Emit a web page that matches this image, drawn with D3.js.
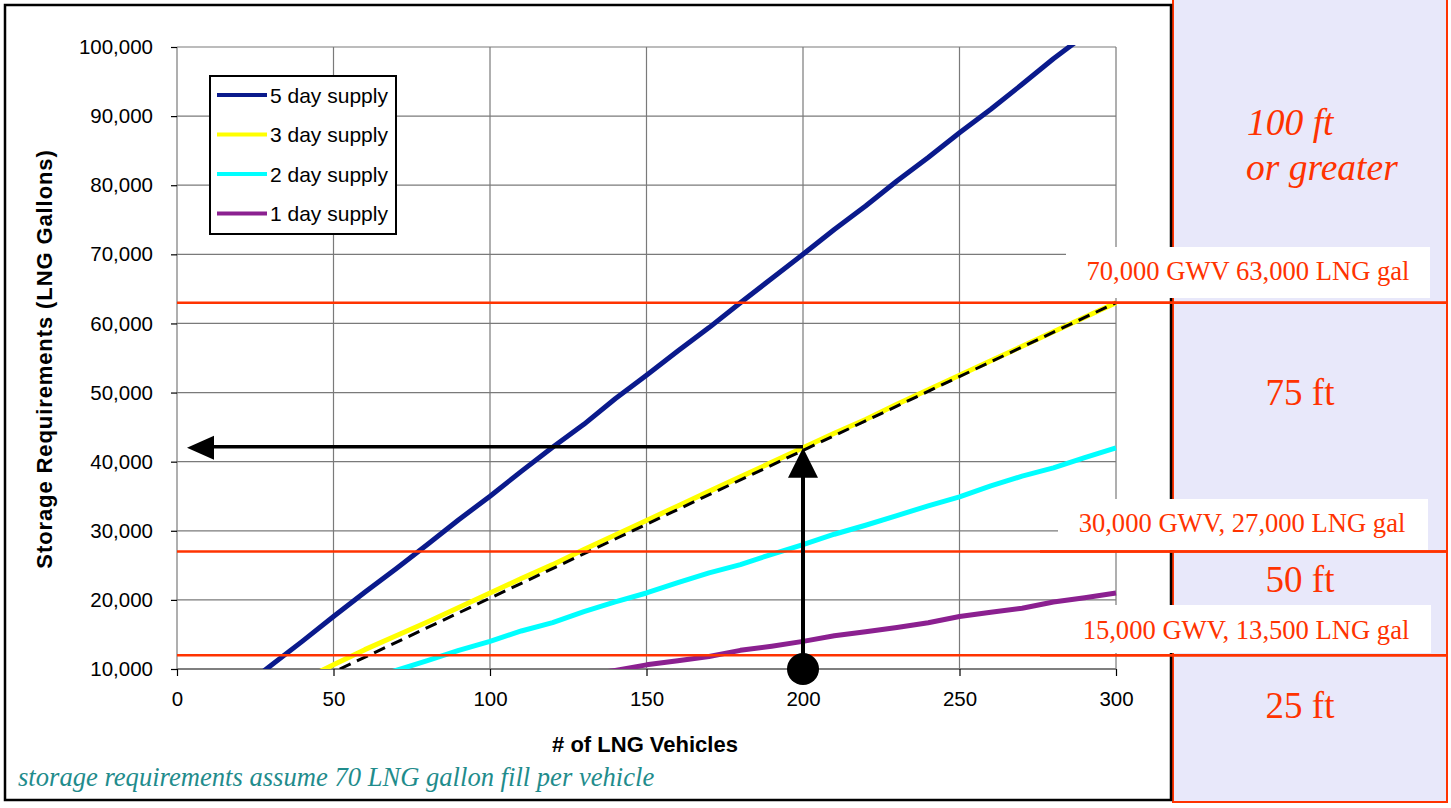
<!DOCTYPE html>
<html><head><meta charset="utf-8">
<script src="https://cdn.jsdelivr.net/npm/d3@7"></script>
<style>html,body{margin:0;padding:0;background:#fff;overflow:hidden}</style>
</head><body>
<svg id="c" width="1451" height="808"></svg>
<script>
// ---- data ----
const vehicles = [0,10,20,30,40,50,60,70,80,90,100,110,120,130,140,150,160,170,180,190,200,210,220,230,240,250,260,270,280,290,300];
const supply5 = [0,3500,7000,10500,14000,17600,21100,24500,28000,31600,35000,38600,42100,45400,49100,52500,56000,59400,63000,66500,70000,73600,77000,80600,84000,87600,91000,94600,98300,101700,105000];
const supply3 = [0,2100,4200,6300,8400,10600,12800,14800,16800,18900,21000,23100,25100,27300,29400,31500,33600,35700,37800,39900,42000,44100,46100,48300,50400,52500,54600,56700,58800,60900,63000];
const supply2 = [0,1400,2800,4200,5600,7000,8400,9800,11200,12700,14000,15500,16700,18300,19700,21000,22500,23900,25100,26600,28000,29500,30800,32200,33600,34900,36500,37900,39100,40600,42000];
const supply1 = [0,700,1400,2100,2800,3500,4200,4900,5600,6300,7000,7700,8400,9100,9800,10600,11200,11800,12700,13300,14000,14800,15400,16000,16700,17600,18200,18800,19700,20300,21000];
const seriesNames = ["5 day supply","3 day supply","2 day supply","1 day supply"];
const seriesColors = ["#0a1a8c","#ffff00","#00ffff","#8b2090"];
const trendX = [52, 300];
const trendY = [10000, 63000];
const xTicks = [0,50,100,150,200,250,300];
const yTicks = [10000,20000,30000,40000,50000,60000,70000,80000,90000,100000];
const limitValues = [63000, 27000, 12000];
const limitLabels = ["70,000 GWV 63,000 LNG gal","30,000 GWV, 27,000 LNG gal","15,000 GWV, 13,500 LNG gal"];
const zoneLabels = ["75 ft","50 ft","25 ft"];
const exampleVehicles = 200, exampleGallons = 42000;

const svg = d3.select("#c");
const L = 177, R = 1116, T = 47, B = 669;
const x = d3.scaleLinear().domain([0,300]).range([L,R]);
const y = d3.scaleLinear().domain([10000,100000]).range([B,T]);
const RED = "#ff3300";
const SANS = "Liberation Sans, Arial, sans-serif";
const SERIF = "Liberation Serif, Times New Roman, serif";

// right panel
svg.append("rect").attr("x",1173).attr("y",-5).attr("width",274).attr("height",807)
  .attr("fill","#e8e8fa").attr("stroke",RED).attr("stroke-width",2);
// chart border
svg.append("rect").attr("x",5).attr("y",5).attr("width",1166).attr("height",795)
  .attr("fill","#fff").attr("stroke","#000").attr("stroke-width",2.5);

// grid
const grid = svg.append("g");
grid.selectAll("line.h").data(yTicks).join("line")
  .attr("x1",L).attr("x2",R).attr("y1",d=>y(d)).attr("y2",d=>y(d))
  .attr("stroke",d=>d===10000?"#000":"#7a7a7a").attr("stroke-width",1.2);
grid.selectAll("line.v").data(xTicks).join("line")
  .attr("x1",d=>x(d)).attr("x2",d=>x(d)).attr("y1",T).attr("y2",B)
  .attr("stroke","#7a7a7a").attr("stroke-width",1.2);

// axes
const ax = svg.append("g").attr("transform",`translate(0,${B})`)
  .call(d3.axisBottom(x).tickValues(xTicks).tickSize(7).tickPadding(15).tickFormat(d3.format("d")));
const ay = svg.append("g").attr("transform",`translate(${L},0)`)
  .call(d3.axisLeft(y).tickValues(yTicks).tickSize(6).tickPadding(18).tickFormat(d3.format(",")));
[ax,ay].forEach(a=>{
  a.select(".domain").remove();
  a.selectAll("line").attr("stroke","#000").attr("stroke-width",1.2);
  a.selectAll("text").attr("font-family",SANS).attr("font-size",20.5).attr("fill","#000");
});

// axis titles
svg.append("text").attr("x",645).attr("y",752).attr("text-anchor","middle")
  .attr("font-family",SANS).attr("font-weight","bold").attr("font-size",22)
  .text("# of LNG Vehicles");
svg.append("text").attr("transform","translate(52,359) rotate(-90)").attr("text-anchor","middle")
  .attr("font-family",SANS).attr("font-weight","bold").attr("font-size",22).attr("letter-spacing",0.9)
  .text("Storage Requirements (LNG Gallons)");

// clip
svg.append("clipPath").attr("id","pc").append("rect").attr("x",L).attr("y",T-2).attr("width",R-L+3).attr("height",B-T+2);
const plot = svg.append("g").attr("clip-path","url(#pc)");
const line = d3.line().x(d=>x(d[0])).y(d=>y(d[1]));
const allSeries = [supply5, supply3, supply2, supply1];
allSeries.forEach((s,i)=>{
  plot.append("path").datum(vehicles.map((v,j)=>[v,s[j]]))
    .attr("d",line).attr("fill","none").attr("stroke",seriesColors[i])
    .attr("stroke-width",5).attr("stroke-linejoin","round");
});
plot.append("path").datum(trendX.map((v,j)=>[v,trendY[j]]))
  .attr("d",line).attr("fill","none").attr("stroke","#000").attr("stroke-width",3)
  .attr("stroke-dasharray","12,7");

// red limit lines
svg.selectAll("line.lim").data(limitValues).join("line")
  .attr("x1",L).attr("x2",1447).attr("y1",d=>y(d)).attr("y2",d=>y(d))
  .attr("stroke",RED).attr("stroke-width",2.5);

// arrows
const ex = x(exampleVehicles), ey = y(exampleGallons);
svg.append("line").attr("x1",ex).attr("x2",ex).attr("y1",y(10000)).attr("y2",ey+28)
  .attr("stroke","#000").attr("stroke-width",4);
svg.append("path").attr("d",`M${ex},${ey} L${ex-15},${ey+30} L${ex+15},${ey+30} Z`).attr("fill","#000");
svg.append("circle").attr("cx",ex).attr("cy",y(10000)).attr("r",16).attr("fill","#000");
const ax0 = x(3.2);
svg.append("line").attr("x1",ex).attr("x2",ax0+25).attr("y1",ey-1).attr("y2",ey-1)
  .attr("stroke","#000").attr("stroke-width",3.5);
svg.append("path").attr("d",`M${ax0},${ey} L${ax0+27},${ey-12} L${ax0+27},${ey+12} Z`).attr("fill","#000");

// legend
const lg = svg.append("g");
lg.append("rect").attr("x",210).attr("y",76).attr("width",186).attr("height",158)
  .attr("fill","#fff").attr("stroke","#000").attr("stroke-width",2);
seriesNames.forEach((n,i)=>{
  const yy = 95 + i*39.5;
  lg.append("line").attr("x1",217).attr("x2",267).attr("y1",yy).attr("y2",yy)
    .attr("stroke",seriesColors[i]).attr("stroke-width",4);
  lg.append("text").attr("x",270).attr("y",yy+7.5).attr("font-family",SANS)
    .attr("font-size",21).text(n);
});

// label boxes
const boxes = [[1066,247,364,51,1248,280],[1058,499,370,51,1242,532],[1066,605,365,48,1246,639]];
boxes.forEach((b,i)=>{
  svg.append("rect").attr("x",b[0]).attr("y",b[1]).attr("width",b[2]).attr("height",b[3]).attr("fill","#fff");
  svg.append("text").attr("x",b[4]).attr("y",b[5]).attr("text-anchor","middle")
    .attr("font-family",SERIF).attr("font-size",26.6).attr("fill",RED)
    .text(limitLabels[i]);
});
// redraw red lines over boxes
svg.selectAll("line.lim2").data(limitValues).join("line")
  .attr("x1",1040).attr("x2",1447).attr("y1",d=>y(d)).attr("y2",d=>y(d))
  .attr("stroke",RED).attr("stroke-width",2.5);

// zone labels
svg.append("text").attr("x",1247).attr("y",135).attr("font-family",SERIF)
  .attr("font-style","italic").attr("font-size",37.5).attr("fill",RED).text("100 ft");
svg.append("text").attr("x",1246).attr("y",180).attr("font-family",SERIF)
  .attr("font-style","italic").attr("font-size",37.5).attr("fill",RED).text("or greater");
[405,592,718].forEach((yy,i)=>{
  svg.append("text").attr("x",1300).attr("y",yy).attr("text-anchor","middle")
    .attr("font-family",SERIF).attr("font-size",37).attr("fill",RED).text(zoneLabels[i]);
});

// footnote
svg.append("text").attr("x",18).attr("y",786).attr("font-family",SERIF)
  .attr("font-style","italic").attr("font-size",26.6).attr("fill","#1f8c8c")
  .text("storage requirements assume 70 LNG gallon fill per vehicle");
</script>
</body></html>
